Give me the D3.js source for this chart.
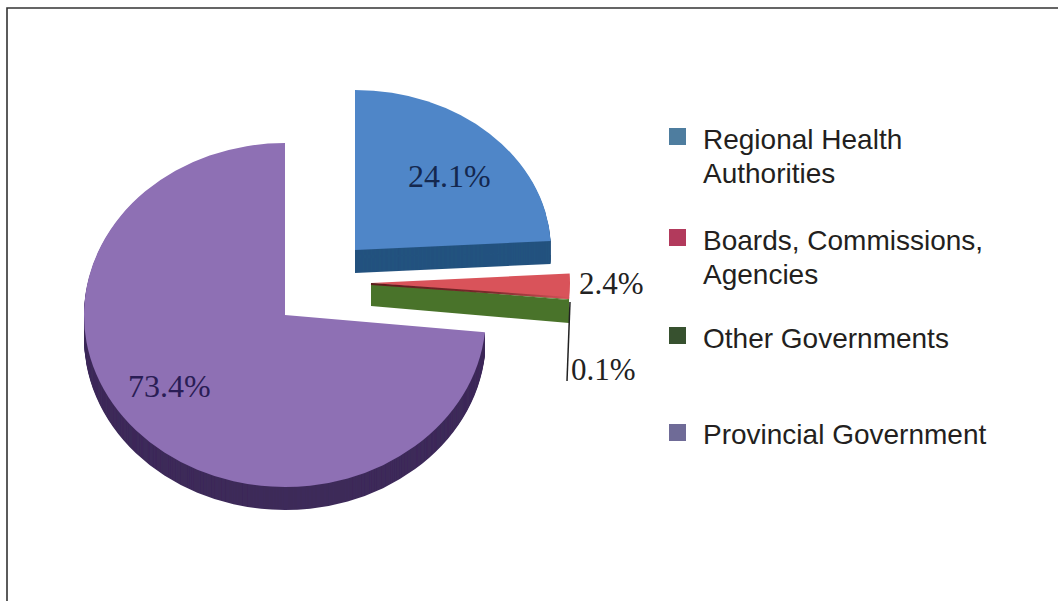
<!DOCTYPE html>
<html lang="en">
<head>
<meta charset="utf-8">
<title>Funding sources</title>
<script src="https://d3js.org/d3.v7.min.js"></script>
<style>
  html, body { margin: 0; padding: 0; background: #fff; }
  svg { display: block; }
</style>
</head>
<body>
<div id="chart"></div>
<script>
// values
var categories = ["Regional Health Authorities", "Boards, Commissions, Agencies", "Other Governments", "Provincial Government"];
var values = [24.1, 2.4, 0.1, 73.4];
var legendLines = [["Regional Health", "Authorities"], ["Boards, Commissions,", "Agencies"], ["Other Governments"], ["Provincial Government"]];

var topColors = ["#4f86c8", "#d9535a", "#4f7a2c", "#8e6fb4"];
var sideColors = ["#24527f", "#7a2a2c", "#4a7329", "#3d2a5a"];
var legendColors = ["#4e7d9f", "#b23a5c", "#37512f", "#6f6b97"];

var width = 1058, height = 601;

var svg = d3.select("#chart").append("svg")
  .attr("width", width)
  .attr("height", height);

var defs = svg.append("defs");
defs.append("filter").attr("id", "soft")
  .append("feGaussianBlur").attr("stdDeviation", 0.7);
var redEdge = defs.append("linearGradient").attr("id", "redEdge")
  .attr("gradientUnits", "userSpaceOnUse")
  .attr("x1", 371).attr("x2", 570).attr("y1", 0).attr("y2", 0);
redEdge.append("stop").attr("offset", "0%").attr("stop-color", "#5e1a1c");
redEdge.append("stop").attr("offset", "60%").attr("stop-color", "#7a2a2c");
redEdge.append("stop").attr("offset", "100%").attr("stop-color", "#d9535a");

// frame, open at the bottom and on the right
svg.append("path")
  .attr("d", "M7,601V8H1058")
  .attr("fill", "none")
  .attr("stroke", "#333")
  .attr("stroke-width", 1.6);

// The slices are exploded, each one has its own centre
var layout = [
  {cx: 355, cy: 250, rx: 196, ry: 160},
  {cx: 371, cy: 283, rx: 199, ry: 170},
  {cx: 371, cy: 283, rx: 199, ry: 170},
  {cx: 285, cy: 315, rx: 201, ry: 172}
];
var depth = 23;
var radius = 100;

var pie = d3.pie().sort(null).value(function(d) { return d; });
var arcs = pie(values);
var arc = d3.arc().innerRadius(0).outerRadius(radius);

var g = svg.append("g").attr("filter", "url(#soft)");

function rimPoint(p, angle) {
  return [p.cx + p.rx * Math.sin(angle), p.cy - p.ry * Math.cos(angle)];
}

// side wall is the same slice stacked downwards
[3, 0].forEach(function(i) {
  var p = layout[i];
  d3.range(depth, 0, -1).forEach(function(k) {
    g.append("path")
      .attr("d", arc(arcs[i]))
      .attr("transform", "translate(" + p.cx + "," + (p.cy + k) + ") scale(" + (p.rx / radius) + "," + (p.ry / radius) + ")")
      .attr("fill", sideColors[i]);
  });
});

// the red and green pair only shows its cut face, a flat band
var pair = layout[2];
var rim = rimPoint(pair, arcs[2].endAngle);
g.append("path")
  .attr("d", d3.line()([[pair.cx, pair.cy], rim, [rim[0], rim[1] + depth], [pair.cx, pair.cy + depth]]) + "Z")
  .attr("fill", sideColors[2]);

[3, 2, 1, 0].forEach(function(i) {
  var p = layout[i];
  g.append("path")
    .attr("d", arc(arcs[i]))
    .attr("transform", "translate(" + p.cx + "," + p.cy + ") scale(" + (p.rx / radius) + "," + (p.ry / radius) + ")")
    .attr("fill", topColors[i]);
});

// dark lower edge of the red slice
var redRim = rimPoint(layout[1], arcs[1].endAngle);
g.append("line")
  .attr("x1", layout[1].cx).attr("y1", layout[1].cy + 1)
  .attr("x2", redRim[0]).attr("y2", redRim[1] - 1)
  .attr("stroke", "url(#redEdge)")
  .attr("stroke-width", 2);

// leader line for the smallest slice
svg.append("line")
  .attr("x1", 570).attr("y1", 302)
  .attr("x2", 567).attr("y2", 381)
  .attr("stroke", "#222")
  .attr("stroke-width", 1.5);

// data labels
var labelPos = [[408, 187], [579, 294], [571, 380], [128, 397]];
var labelFill = ["#14284f", "#222", "#222", "#2a1d55"];
var labelSize = [32, 31, 31, 32];
svg.selectAll("text.label")
  .data(values)
  .enter().append("text")
  .attr("class", "label")
  .attr("x", function(d, i) { return labelPos[i][0]; })
  .attr("y", function(d, i) { return labelPos[i][1]; })
  .attr("font-family", "'Liberation Serif', serif")
  .attr("font-size", function(d, i) { return labelSize[i]; })
  .attr("fill", function(d, i) { return labelFill[i]; })
  .text(function(d) { return d3.format(".1f")(d) + "%"; });

// legend
var markerY = [128, 229, 327, 424];
var textY = [[149, 183], [250, 284], [348], [444]];
var legend = svg.selectAll("g.legend")
  .data(categories)
  .enter().append("g")
  .attr("class", "legend");

legend.append("rect")
  .attr("x", 669)
  .attr("y", function(d, i) { return markerY[i]; })
  .attr("width", 17)
  .attr("height", 17)
  .attr("fill", function(d, i) { return legendColors[i]; });

legend.each(function(d, i) {
  d3.select(this).selectAll("text")
    .data(legendLines[i])
    .enter().append("text")
    .attr("x", 703)
    .attr("y", function(t, j) { return textY[i][j]; })
    .attr("font-family", "'Liberation Sans', Arial, sans-serif")
    .attr("font-size", 28)
    .attr("fill", "#231f20")
    .text(function(t) { return t; });
});
</script>
</body>
</html>
